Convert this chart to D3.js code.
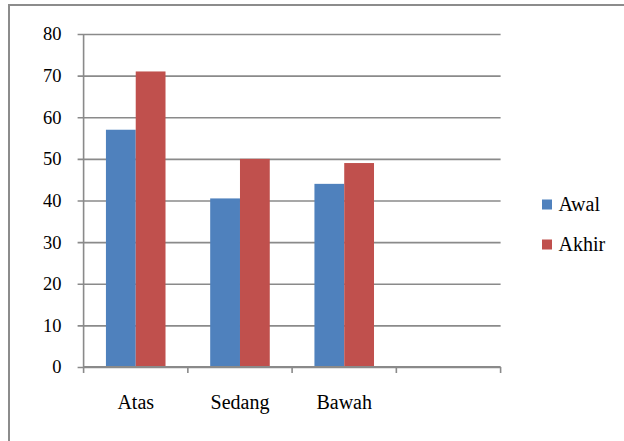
<!DOCTYPE html>
<html>
<head>
<meta charset="utf-8">
<script src="https://cdn.jsdelivr.net/npm/d3@7"></script>
</head>
<body style="margin:0">
<svg id="chart" width="624" height="441"></svg>
<script>
// Categories (the fourth slot is an empty category)
const categories = ["Atas", "Sedang", "Bawah", ""];
const seriesNames = ["Awal", "Akhir"];
const awal = [57, 40.5, 44, null];
const akhir = [71, 50, 49, null];
const yTicks = [0, 10, 20, 30, 40, 50, 60, 70, 80];
const colors = ["#4F81BD", "#C0504D"];

const FONT = "Liberation Serif";

const svg = d3.select("#chart")
  .attr("font-family", FONT);
const W = 624, H = 441;
const plot = { left: 83.6, right: 500.6, top: 34, bottom: 367 };
const gridColor = "#8a8a8a";

// helper: serif label
function label(sel, size) {
  return sel
    .attr("font-family", FONT)
    .attr("font-size", size)
    .style("font-family", FONT)
    .style("font-size", size + "px")
    .attr("fill", "#000");
}

// Chart frame
svg.append("rect")
  .attr("x", 9).attr("y", 5)
  .attr("width", W + 20).attr("height", H + 20)
  .attr("fill", "#fff")
  .attr("stroke", "#8c8c8c").attr("stroke-width", 2);

const x = d3.scaleBand()
  .domain(d3.range(categories.length))
  .range([plot.left, plot.right])
  .paddingInner(0).paddingOuter(0);

const y = d3.scaleLinear().domain([0, 80]).range([plot.bottom, plot.top]);

// Horizontal gridlines with small outward ticks
const yAxis = d3.axisLeft(y)
  .tickValues(yTicks)
  .tickSize(-(plot.right - plot.left))
  .tickFormat(d3.format("d"))
  .tickPadding(0);

const gy = svg.append("g")
  .attr("transform", `translate(${plot.left},0)`)
  .call(yAxis)
  .attr("font-family", FONT)
  .attr("font-size", 18.5);
gy.select(".domain").remove();
gy.selectAll(".tick line")
  .attr("x1", -6)
  .attr("stroke", gridColor).attr("stroke-width", 1.6);
label(gy.selectAll(".tick text").attr("x", -22), 18.5);

// Vertical axis line
svg.append("line")
  .attr("x1", plot.left).attr("x2", plot.left)
  .attr("y1", plot.top).attr("y2", plot.bottom)
  .attr("stroke", gridColor).attr("stroke-width", 1.6);

// Bars
const inner = d3.scaleBand()
  .domain(d3.range(seriesNames.length))
  .range([0, x.bandwidth()])
  .paddingOuter(0.75).paddingInner(0);

const series = [awal, akhir];
series.forEach((vals, si) => {
  svg.append("g").selectAll("rect")
    .data(vals.map((v, i) => ({ v, i })).filter(d => d.v != null))
    .join("rect")
    .attr("x", d => x(d.i) + inner(si))
    .attr("width", inner.bandwidth())
    .attr("y", d => y(d.v))
    .attr("height", d => y(0) - y(d.v))
    .attr("fill", colors[si]);
});

// Category axis
const xAxisG = svg.append("g");
xAxisG.append("line")
  .attr("x1", plot.left).attr("x2", plot.right)
  .attr("y1", plot.bottom).attr("y2", plot.bottom)
  .attr("stroke", gridColor).attr("stroke-width", 1.8);
const boundaries = categories.map((c, i) => x(i)).concat([plot.right]);
xAxisG.selectAll("line.tk")
  .data(boundaries)
  .join("line")
  .attr("class", "tk")
  .attr("x1", d => d).attr("x2", d => d)
  .attr("y1", plot.bottom).attr("y2", plot.bottom + 6)
  .attr("stroke", gridColor).attr("stroke-width", 1.6);
label(xAxisG.selectAll("text")
  .data(categories)
  .join("text")
  .attr("x", (d, i) => x(i) + x.bandwidth() / 2)
  .attr("y", 408.5)
  .attr("text-anchor", "middle"), 20)
  .text(d => d);

// Legend
const legend = svg.append("g");
seriesNames.forEach((name, i) => {
  const yy = 199.5 + i * 40;
  legend.append("rect")
    .attr("x", 542).attr("y", yy)
    .attr("width", 10).attr("height", 10)
    .attr("fill", colors[i]);
  label(legend.append("text")
    .attr("x", 558.5).attr("y", yy + 11.3), 20)
    .text(name);
});
</script>
</body>
</html>
